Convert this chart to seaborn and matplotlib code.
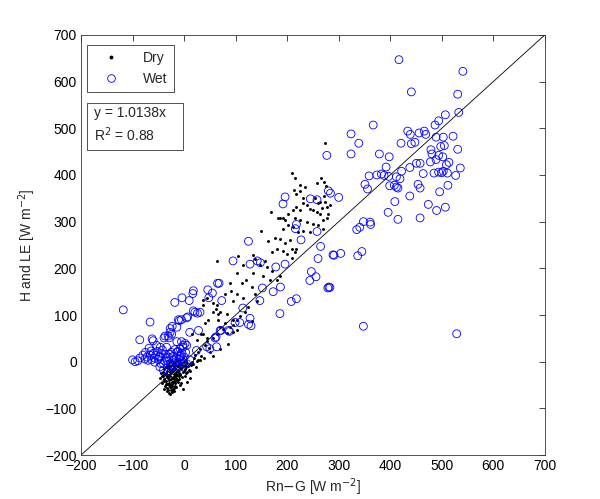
import numpy as np
import pandas as pd
import seaborn as sns
import matplotlib
matplotlib.use("Agg")
import matplotlib.pyplot as plt
from matplotlib.lines import Line2D
from matplotlib.patches import Rectangle

# Wet days (blue open circles)
wet_x = [417, 541, 441, 531, 533, 507, 494, 487, 367, 324, 339, 324, 379, 398, 434, 439, 456, 466, 469,
         489, 503, 522, 421, 441, 448, 479, 498, 505, 531, 481, 494, 502, 392, 422, 438, 451, 458, 478,
         489, 509, 514, 536, 359, 374, 383, 388, 397, 412, 419, 464, 485, 494, 500, 503, 511, 527, 351,
         356, 399, 408, 412, 415, 454, 458, 512, 438, 496, 409, 474, 507, 490, 396, 415, 458, 300, 348,
         361, 335, 341, 362, 291, 304, 337, 345, 283, 348, 529,
         277, 280, 284, 196, 192, 245, 258, 218, 216, 227, 258, 125, 265, 289, 260, 95, 128, 142, 148,
         178, 196, 247, 244, 256, 281, 279, 65, 68, 46, 55, 48, 73, 152, 173, 187, 147, 208, 218, 186,
         114, 128, 125, 130, 108, 99, 88, 70, 60, 31,
         -118, -66, -86, -62, -60, -68, -53, -46, -34, -64, -86, -76, -70, -63, -57, -47, -40, -31, -24,
         -47, -34, -27, -21, -14, -8, -2, 5, -8, -2, 11, -40, -27, -14, -2, -2, 2, -5, -37, -24, -14,
         -9, 5, 18, 21, 11, -14, -31, -27, -23, -11, -5, -18, -4, 10, 18, 24, 44, 50, 63, 28,
         17, -39, -29, -27, 7, 26, 5, 62, 72, 86,
         -80, -72, -55, -50, -44, -38, -30, -20, -16, -10, -4, 0, -58, -66, -90, -95, -100,
         -52, -42, -36, -25, -18, -12, -6, -33, -45, -60, -75, -22, -9, 3, -48]
wet_y = [647, 622, 578, 573, 534, 529, 516, 507, 507, 488, 468, 445, 445, 439, 494, 487, 490, 494, 487,
         481, 481, 483, 468, 467, 470, 454, 461, 463, 455, 445, 442, 439, 417, 408, 416, 425, 425, 428,
         433, 422, 427, 415, 398, 400, 402, 399, 397, 396, 392, 403, 404, 406, 405, 408, 404, 399, 380,
         370, 377, 378, 374, 372, 380, 372, 378, 355, 364, 343, 337, 331, 324, 320, 305, 308, 352, 300,
         299, 283, 288, 294, 228, 232, 227, 236, 159, 76, 60,
         442, 366, 361, 353, 338, 349, 347, 294, 285, 261, 279, 258, 247, 229, 221, 216, 209, 216, 212,
         203, 209, 193, 174, 182, 160, 158, 168, 168, 154, 147, 137, 131, 158, 150, 160, 131, 129, 135,
         103, 115, 93, 80, 77, 84, 84, 65, 67, 51, 106,
         111, 85, 47, 49, 45, 29, 35, 31, 31, 23, 8, 6, 3, 4, -1, -11, -18, -21, -11,
         12, 8, 16, 4, 20, 12, 4, -4, 28, 31, 4, -4, -4, -8, -4, 35, 39, 43, 55, 59, 74,
         88, 94, 109, 106, 63, 43, 55, 71, 76, 90, 90, 127, 137, 131, 152, 24, 32, 28, 32, 67,
         146, 51, 51, 63, 96, 104, 35, 53, 67, 67,
         14, 10, 14, 5, 18, 2, 10, 12, 0, 6, 18, 10, 8, 14, 2, 0, 4,
         22, 25, 16, 20, 26, 22, 14, 2, -4, 18, 20, -6, -12, 20, 10]

# Dry days (black dots)
dry_x = [273, 209, 215, 258, 265, 271, 275, 225, 234, 218, 225, 231, 213, 254, 260, 264, 271, 273, 277,
         268, 283, 280, 277, 270, 264, 257, 251, 244, 238, 231, 225, 218, 212, 215, 225, 238, 251, 260,
         270, 244, 231, 222, 212, 202, 192, 186, 196, 169, 183, 192, 201, 149, 163, 176, 186, 196, 205,
         180, 170, 192, 209, 215, 218, 199, 209, 105, 115, 133, 138, 147, 157, 160, 170, 134, 154, 167,
         180, 186, 63, 89, 102, 112, 121, 131, 138, 141, 115, 102, 92, 79, 95, 125, 118, 132, 108, 95,
         83, 70, 63, 57, 47, 41, 37, 44, 89, 95, 102, 70, 79, 37, 44,
         18, 24, 31, 11, 31, 28, 41, 57, 63, 76, 84, 95, 102, 50, 57, 70, 86, 5, 11, -2, -8, 15, 28,
         37, 57, 62, 66, 65, 26, 32, 15,
         -15, -8, -2, 3, -25, -19, -12, -6, 0, 6, -31, -22, -16, -10, -4, 2, -35, -28, -20, -14, -8, -2,
         4, -38, -31, -24, -18, -12, -6, 0, -41, -33, -27, -21, -15, -9, -3, -38, -32, -26, -20, -14, -8,
         -40, -34, -28, -22, -16, -10, -4, -38, -31, -25, -19, -13, -36, -30, -24, -18, -12, -35, -29,
         -23, -17, -37, -30, -24, -18, -34, -27, -21, -33, -26, -30, -24, -28, -35, -44, -46, -42, -9,
         -6, 2, 6, 8, 12, -20, -38, -15,
         -29, -23, -17, -11, -5, -33, -27, -21, -15, -36, -30, -24, -18, -39, -33, -27, -21, -26, -32,
         -20, -43, -11, -7, 1, 4, 9, 14, 20, 25, 33, 38, 44, 48, 22]
dry_y = [469, 404, 394, 382, 394, 386, 377, 378, 374, 359, 365, 351, 368, 351, 340, 343, 355, 343, 331,
         329, 335, 316, 307, 304, 316, 320, 324, 328, 335, 339, 324, 331, 324, 308, 304, 300, 296, 293,
         285, 277, 281, 277, 289, 293, 285, 307, 304, 321, 307, 308, 317, 279, 258, 265, 263, 254, 261,
         242, 234, 238, 242, 234, 242, 230, 223, 226, 207, 229, 219, 207, 215, 203, 195, 191, 183, 176,
         176, 183, 215, 168, 191, 168, 176, 160, 145, 129, 137, 145, 152, 145, 129, 117, 106, 88, 98, 90,
         102, 106, 121, 106, 90, 82, 59, 51, 74, 63, 67, 74, 82, 121, 137,
         -4, -11, 4, -19, 28, 20, 35, 51, 59, 71, 62, 78, 90, 20, 12, 28, 39, -43, -35, -58, -50, 0, 4,
         133, 125, 113, 102, 90, 46, 59, 59,
         6, 4, 8, 2, 1, -1, 2, -2, 0, -3, -6, -4, -7, -5, -8, -6, -11, -9, -12, -10, -13, -9,
         -12, -16, -14, -17, -15, -18, -16, -19, -21, -19, -23, -20, -22, -24, -21, -26, -28, -25, -27, -29, -26,
         -31, -33, -30, -32, -34, -31, -33, -37, -35, -38, -36, -39, -42, -40, -43, -41, -44, -47, -45,
         -48, -46, -52, -50, -53, -51, -57, -55, -58, -62, -60, -66, -64, -70, -28, -24, -35, -45, -38,
         -45, -30, -22, -10, -5, -62, -58, -55,
         -2, -8, -4, -10, -14, -12, -18, -15, -27, -24, -29, -34, -31, -41, -47, -50, -44, -55, -60,
         -56, -30, -20, -28, -15, -25, -18, -8, 8, 2, 12, 8, 45, 30, 14]

ticks = [-200, -100, 0, 100, 200, 300, 400, 500, 600, 700]

dry = pd.DataFrame({"x": dry_x, "y": dry_y})
wet = pd.DataFrame({"x": wet_x, "y": wet_y})

sns.set_style("white")
plt.rcParams['font.family'] = ['Liberation Sans', 'DejaVu Sans']
plt.rcParams['font.size'] = 10

fig = plt.figure(figsize=(6.0, 4.99), dpi=100)
ax = fig.add_axes([0.135, 0.088, 0.773, 0.842])

ax.plot([-200, 700], [-200, 700], color='black', linewidth=0.6, zorder=1)
sns.scatterplot(data=dry, x="x", y="y", ax=ax, color='black', marker='o', s=4.5,
                linewidth=0, zorder=2)
sns.scatterplot(data=wet, x="x", y="y", ax=ax, marker='o', s=32, facecolor='none',
                edgecolor='#0000ff', linewidth=0.6, zorder=3)

ax.set_xlim(-200, 700)
ax.set_ylim(-200, 700)
ax.set_xticks(ticks)
ax.set_yticks(ticks)
ax.tick_params(direction='in', length=4, width=0.5, top=True, right=True,
               labelsize=10, colors='black', pad=3)
for sp in ax.spines.values():
    sp.set_linewidth(0.6)
    sp.set_color('#333333')
    sp.set_visible(True)

ax.set_xlabel(r"Rn$-$G [W m$^{-2}$]", fontsize=10, labelpad=2)
ax.set_ylabel(r"H and LE [W m$^{-2}$]", fontsize=10, labelpad=5)

handles = [Line2D([], [], linestyle='none', marker='o', markersize=1.8, color='black'),
           Line2D([], [], linestyle='none', marker='o', markersize=5.5, markerfacecolor='none',
                  markeredgecolor='#0000ff', markeredgewidth=0.6)]
leg = ax.legend(handles, ["Dry", "Wet"], loc='upper left', bbox_to_anchor=(0.013, 0.976),
                borderaxespad=0, fancybox=False, framealpha=1, edgecolor='#333333',
                fontsize=10, handlelength=2.6, handletextpad=1.0, borderpad=0.45,
                labelspacing=0.45)
leg.get_frame().set_linewidth(0.6)

# fit-result box
ax.add_patch(Rectangle((0.013, 0.726), 0.207, 0.112, transform=ax.transAxes,
                       facecolor='white', edgecolor='#333333', linewidth=0.6, zorder=4))
ax.text(0.027, 0.830, "y = 1.0138x\nR$^2$ = 0.88", transform=ax.transAxes, fontsize=10,
        va='top', ha='left', linespacing=1.3, zorder=5)

fig.savefig("out.png", dpi=100)
